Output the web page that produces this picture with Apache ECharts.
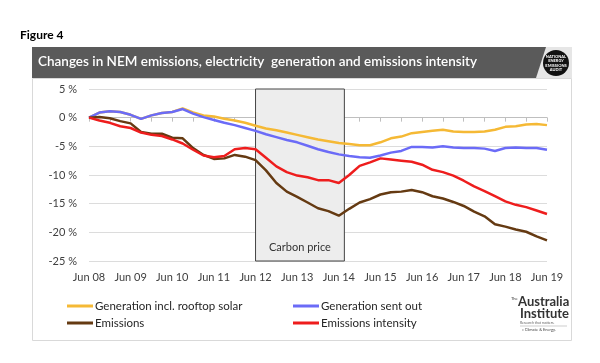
<!DOCTYPE html>
<html><head><meta charset="utf-8">
<script src="https://cdn.jsdelivr.net/npm/echarts@6/dist/echarts.min.js"></script>
<style>html,body{margin:0;padding:0;background:#fff}#c{width:600px;height:363px}</style>
</head><body><div id="c"></div><script>
// months since Jun 2008
const months = [0,3,6,9,12,15,18,21,24,27,30,33,36,39,42,45,48,51,54,57,60,63,66,69,72,75,78,81,84,87,90,93,96,99,102,105,108,111,114,117,120,123,126,129,132];
const tickLabels = ['Jun 08','Jun 09','Jun 10','Jun 11','Jun 12','Jun 13','Jun 14','Jun 15','Jun 16','Jun 17','Jun 18','Jun 19'];
const yTicks = [5,0,-5,-10,-15,-20,-25];
const genRooftop = [0,0.9,1.1,1.0,0.5,-0.2,0.4,0.8,1.0,1.6,0.9,0.4,0.2,-0.2,-0.5,-0.9,-1.4,-1.9,-2.2,-2.6,-3.0,-3.4,-3.8,-4.1,-4.4,-4.6,-4.8,-4.8,-4.3,-3.6,-3.3,-2.7,-2.5,-2.3,-2.1,-2.4,-2.5,-2.5,-2.4,-2.1,-1.6,-1.5,-1.2,-1.1,-1.3];
const genSentOut = [0,0.9,1.1,1.0,0.5,-0.2,0.4,0.8,1.0,1.5,0.7,0.1,-0.4,-0.9,-1.3,-1.8,-2.3,-2.9,-3.4,-3.9,-4.3,-4.9,-5.5,-6.0,-6.4,-6.7,-6.9,-7.0,-6.6,-6.1,-5.8,-5.1,-5.1,-5.2,-5.0,-5.2,-5.3,-5.3,-5.4,-5.8,-5.3,-5.2,-5.3,-5.3,-5.6];
const emissions = [0,0.1,-0.1,-0.6,-1.0,-2.5,-2.8,-2.8,-3.5,-3.6,-5.3,-6.5,-7.2,-7.1,-6.5,-6.8,-7.4,-9.2,-11.4,-12.9,-13.8,-14.8,-15.8,-16.3,-17.1,-15.9,-14.8,-14.2,-13.4,-13.0,-12.9,-12.6,-13.0,-13.7,-14.1,-14.7,-15.4,-16.4,-17.2,-18.6,-19.0,-19.5,-19.9,-20.7,-21.4];
const intensity = [0,-0.5,-0.9,-1.5,-1.8,-2.6,-3.0,-3.2,-3.8,-4.5,-5.6,-6.6,-6.9,-6.7,-5.5,-5.3,-5.5,-7.0,-8.5,-9.5,-10.1,-10.4,-10.9,-10.9,-11.4,-10.0,-8.4,-7.8,-7.1,-7.3,-7.5,-7.7,-8.2,-9.1,-9.5,-10.1,-11.0,-12.0,-12.8,-13.7,-14.6,-15.2,-15.6,-16.2,-16.8];
const carbonPrice = [48, 73.6];
const names = ['Generation incl. rooftop solar','Generation sent out','Emissions','Emissions intensity'];
const colors = ['#F5B935','#6B6BF7','#653A12','#EE1D1D'];
const values = [genRooftop, genSentOut, emissions, intensity];

const FONT = 'Lato, "Open Sans", sans-serif';
const chart = echarts.init(document.getElementById('c'), null, {renderer:'canvas'});

const series = values.map((arr, k) => ({
  name: names[k], type: 'line', showSymbol: false, symbol: 'none',
  data: months.map((m, i) => [m, arr[i]]),
  lineStyle: {color: colors[k], width: 2.5}, itemStyle: {color: colors[k]},
  z: 3, animation: false
}));
series.push({
  type: 'line', data: [], z: 1, silent: true,
  markArea: {
    silent: true,
    itemStyle: {color: '#ededed', borderColor: '#444', borderWidth: 1},
    label: {show: true, position: 'insideBottom', distance: 9, color: '#333', fontSize: 11, fontFamily: FONT},
    data: [[{name: 'Carbon price', xAxis: carbonPrice[0]}, {xAxis: carbonPrice[1]}]]
  }
});

chart.setOption({
  animation: false,
  backgroundColor: '#fff',
  grid: {left: 89, right: 53, top: 89, bottom: 102, containLabel: false},
  xAxis: {
    type: 'value', min: 0, max: 132, interval: 12,
    axisLine: {show: true, lineStyle: {color: '#bfbfbf'}},
    axisTick: {show: true, length: 4, lineStyle: {color: '#bfbfbf'}},
    minorTick: {show: true, splitNumber: 2, length: 4, lineStyle: {color: '#bfbfbf'}},
    splitLine: {show: false},
    axisLabel: {color: '#404040', fontSize: 11, fontFamily: FONT, margin: 11,
      formatter: v => tickLabels[Math.round(v / 12)] || ''}
  },
  yAxis: {
    type: 'value', min: -25, max: 5, interval: 5,
    axisLine: {show: false}, axisTick: {show: false},
    splitLine: {lineStyle: {color: '#dcdcdc'}},
    axisLabel: {color: '#404040', fontSize: 11, fontFamily: FONT, margin: 12,
      formatter: v => yTicks.includes(v) ? v + ' %' : ''}
  },
  legend: [
    {data: [names[0], names[2]], orient: 'vertical', left: 62, top: 295, icon: 'rect',
     itemWidth: 26, itemHeight: 3, itemGap: 5,
     textStyle: {color: '#262626', fontSize: 11.5, fontFamily: FONT, padding: [0,0,0,-3]}},
    {data: [names[1], names[3]], orient: 'vertical', left: 288, top: 295, icon: 'rect',
     itemWidth: 26, itemHeight: 3, itemGap: 5,
     textStyle: {color: '#262626', fontSize: 11.5, fontFamily: FONT, padding: [0,0,0,-3]}}
  ],
  graphic: [
    {type: 'rect', z: -10, shape: {x: 32.5, y: 78.5, width: 539, height: 262}, style: {fill: '#fff', stroke: '#d9d9d9', lineWidth: 1}},
    {type: 'text', left: 20, top: 29, style: {text: 'Figure 4', fill: '#000', font: 'bold 12px ' + FONT}},
    {type: 'rect', shape: {x: 536, y: 47, width: 36, height: 31}, style: {fill: '#e6e6e6'}},
    {type: 'polygon', shape: {points: [[32,47],[546,47],[536,78],[32,78]]}, style: {fill: '#5a5a5a'}},
    {type: 'text', left: 38, top: 55, style: {text: 'Changes in NEM emissions, electricity  generation and emissions intensity', fill: '#fff', font: '600 13.5px ' + FONT}},
    {type: 'circle', shape: {cx: 556, cy: 63, r: 13}, style: {fill: '#111'}},
    {type: 'text', x: 556, y: 63, style: {text: 'NATIONAL\nENERGY\nEMISSIONS\nAUDIT', fill: '#fff', font: 'bold 4px ' + FONT, align: 'center', verticalAlign: 'middle', lineHeight: 4.5}},
    {type: 'text', left: 511, top: 297, style: {text: 'The', fill: '#333', font: '4px ' + FONT}},
    {type: 'text', left: 518, top: 295, style: {text: 'Australia', fill: '#333', font: 'bold 13px ' + FONT}},
    {type: 'text', left: 520, top: 307, style: {text: 'Institute', fill: '#333', font: 'bold 13px ' + FONT}},
    {type: 'text', left: 520, top: 321, style: {text: 'Research that matters.', fill: '#666', font: '3.5px ' + FONT}},
    {type: 'line', shape: {x1: 520, y1: 326, x2: 567, y2: 326}, style: {stroke: '#999', lineWidth: 0.5}},
    {type: 'text', left: 522, top: 328, style: {text: '» Climate & Energy.', fill: '#444', font: '4px ' + FONT}}
  ],
  series: series
});
</script></body></html>
